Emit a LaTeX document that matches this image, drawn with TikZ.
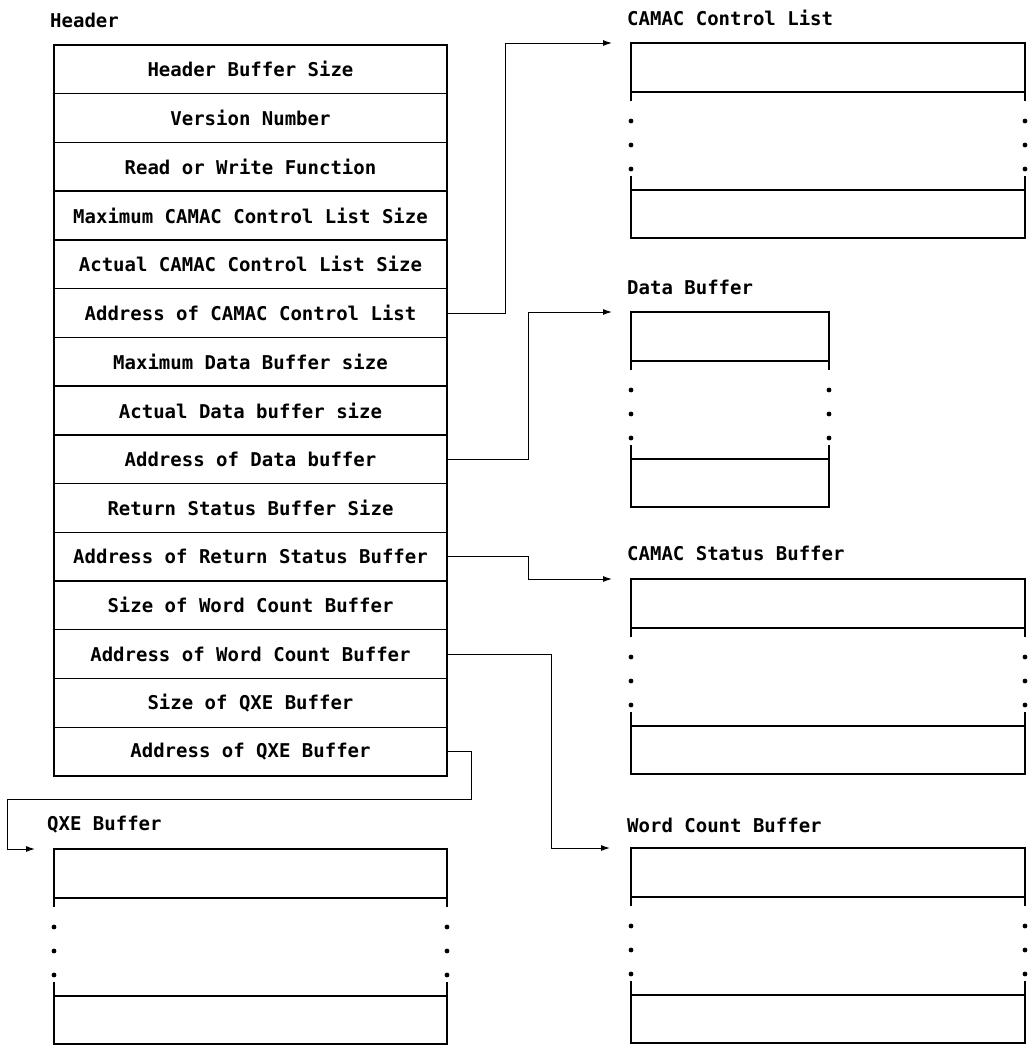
\documentclass[tikz,border=0pt]{standalone}
\usepackage{fontspec}
\setmainfont{DejaVu Sans Mono}
\usetikzlibrary{arrows.meta}

% buffer drawn as a box with a broken middle: x, y (top left), width
\newcommand{\bufbox}[3]{%
  \begin{scope}[shift={(#1,#2)}]
    \draw[box] (0,58) -- (0,0) -- (#3,0) -- (#3,58);
    \draw[box] (0,49) -- (#3,49);
    \draw[box] (0,133) -- (0,195) -- (#3,195) -- (#3,133);
    \draw[box] (0,147) -- (#3,147);
    \foreach \d in {78,102,126} {
      \fill (0,\d) circle (2.4);
      \fill (#3,\d) circle (2.4);
    }
  \end{scope}}

\begin{document}
\begin{tikzpicture}[x=1pt,y=-1pt,
   >={Latex[length=9pt,width=6pt]},
   txt/.style={font=\bfseries\fontsize{19}{19}\selectfont},
   row/.style={txt,draw,line width=1.4pt,minimum width=393pt,minimum height=48.73pt,inner sep=0pt},
   lbl/.style={txt,anchor=west,inner sep=0pt},
   box/.style={line width=1.4pt},
   link/.style={->,line width=1pt}]
   \useasboundingbox (0,0) rectangle (1032,1045);

   \node[lbl] (hdr) at (50,20) {Header};
   \foreach \t [count=\i] in {Header Buffer Size, Version Number, Read or Write Function,
       Maximum CAMAC Control List Size, Actual CAMAC Control List Size,
       Address of CAMAC Control List, Maximum Data Buffer size, Actual Data buffer size,
       Address of Data buffer, Return Status Buffer Size, Address of Return Status Buffer,
       Size of Word Count Buffer, Address of Word Count Buffer, Size of QXE Buffer,
       Address of QXE Buffer}
     \node[row] (h\i) at (250.5,{45+(\i-0.5)*48.73}) {\t};

   \node[lbl] (ccl) at (627,18) {CAMAC Control List};
   \node[lbl] (db) at (627,287) {Data Buffer};
   \node[lbl] (csb) at (627,553) {CAMAC Status Buffer};
   \node[lbl] (wcb) at (627,825) {Word Count Buffer};
   \node[lbl] (qxb) at (47,825) {QXE Buffer};

   \bufbox{631}{43}{394}
   \bufbox{631}{312}{198}
   \bufbox{631}{579}{394}
   \bufbox{631}{848}{394}
   \bufbox{54}{849}{393}

   \coordinate (cclin) at (612,43);
   \coordinate (dbin) at (612,312);
   \coordinate (csbin) at (612,579);
   \coordinate (wcbin) at (610,848);
   \coordinate (qxbend) at (7,799);
   \coordinate (qxbin) at (35,849);

   \draw[link] (h6.east) -- ++(58,0) |- (cclin);
   \draw[link] (h9.east) -- ++(81,0) |- (dbin);
   \draw[link] (h11.east) -- ++(81,0) |- (csbin);
   \draw[link] (h13.east) -- ++(104,0) |- (wcbin);
   \draw[link] (h15.east) -- ++(24,0) |- (qxbend) |- (qxbin);
\end{tikzpicture}
\end{document}
